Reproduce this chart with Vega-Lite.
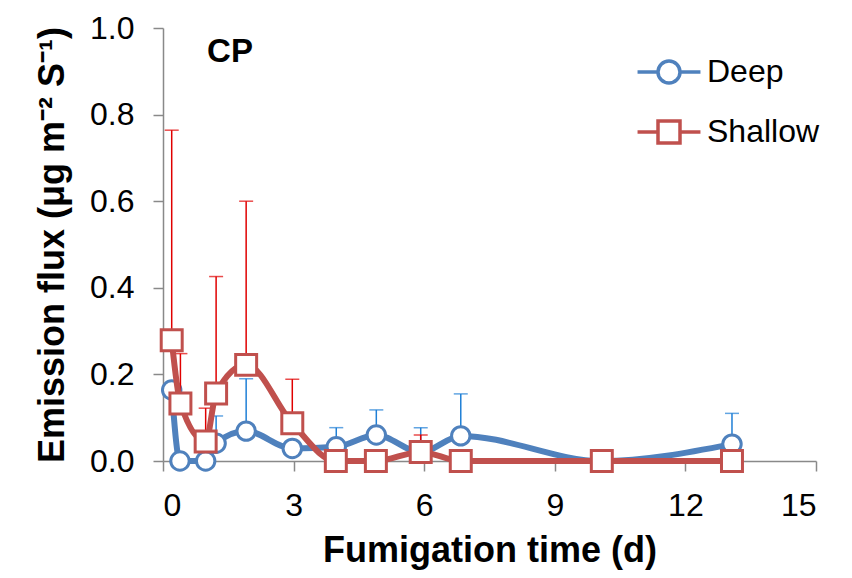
{
  "$schema": "https://vega.github.io/schema/vega-lite/v6.json",
  "autosize": "none",
  "width": 653,
  "height": 433,
  "padding": {"left": 163, "top": 28, "right": 36, "bottom": 117},
  "background": "white",
  "config": {
    "view": {"stroke": null},
    "font": "Liberation Sans",
    "axis": {
      "grid": false,
      "domainColor": "#898989",
      "domainWidth": 1.5,
      "tickColor": "#898989",
      "tickWidth": 1.5,
      "tickSize": 10,
      "labelFont": "Liberation Sans",
      "labelFontSize": 32,
      "labelColor": "#000000",
      "labelPadding": 19,
      "titleFont": "Liberation Sans",
      "titleFontSize": 36,
      "titleFontWeight": "bold",
      "titleColor": "#000000"
    }
  },
  "datasets": {
    "pts": [
      {"series": "Deep", "t": 0.2, "v": 0.164, "hi": null},
      {"series": "Deep", "t": 0.39, "v": 0.0, "hi": null},
      {"series": "Deep", "t": 0.98, "v": 0.0, "hi": null},
      {"series": "Deep", "t": 1.22, "v": 0.041, "hi": 0.104},
      {"series": "Deep", "t": 1.91, "v": 0.069, "hi": 0.19},
      {"series": "Deep", "t": 2.97, "v": 0.029, "hi": null},
      {"series": "Deep", "t": 3.98, "v": 0.033, "hi": 0.077},
      {"series": "Deep", "t": 4.9, "v": 0.06, "hi": 0.118},
      {"series": "Deep", "t": 5.92, "v": 0.02, "hi": 0.077},
      {"series": "Deep", "t": 6.84, "v": 0.058, "hi": 0.155},
      {"series": "Deep", "t": 10.08, "v": 0.0, "hi": null},
      {"series": "Deep", "t": 13.07, "v": 0.039, "hi": 0.11},
      {"series": "Shallow", "t": 0.2, "v": 0.279, "hi": 0.764},
      {"series": "Shallow", "t": 0.4, "v": 0.133, "hi": 0.248},
      {"series": "Shallow", "t": 0.98, "v": 0.045, "hi": 0.122},
      {"series": "Shallow", "t": 1.22, "v": 0.156, "hi": 0.426},
      {"series": "Shallow", "t": 1.91, "v": 0.222, "hi": 0.6},
      {"series": "Shallow", "t": 2.97, "v": 0.087, "hi": 0.189},
      {"series": "Shallow", "t": 3.97, "v": 0.0, "hi": null},
      {"series": "Shallow", "t": 4.89, "v": 0.0, "hi": null},
      {"series": "Shallow", "t": 5.92, "v": 0.021, "hi": 0.06},
      {"series": "Shallow", "t": 6.84, "v": 0.0, "hi": null},
      {"series": "Shallow", "t": 10.08, "v": 0.0, "hi": null},
      {"series": "Shallow", "t": 13.07, "v": 0.0, "hi": null}
    ]
  },
  "data": {"name": "pts"},
  "encoding": {
    "x": {
      "field": "t", "type": "quantitative",
      "scale": {"domain": [0, 15], "nice": false},
      "axis": {"values": [0, 3, 6, 9, 12, 15], "title": "Fumigation time (d)", "titlePadding": 12}
    },
    "y": {
      "field": "v", "type": "quantitative",
      "scale": {"domain": [0, 1], "nice": false},
      "axis": {"values": [0, 0.2, 0.4, 0.6, 0.8, 1.0], "format": ".1f", "title": "Emission flux (μg m⁻² S⁻¹)", "titlePadding": 18}
    }
  },
  "layer": [
    {
      "transform": [{"filter": "datum.series === 'Deep' && datum.hi != null"}],
      "mark": {"type": "rule", "color": "#1f7fd6", "strokeWidth": 1.5},
      "encoding": {"y2": {"field": "hi"}}
    },
    {
      "transform": [{"filter": "datum.series === 'Deep' && datum.hi != null"}],
      "mark": {"type": "tick", "orient": "horizontal", "color": "#1f7fd6", "size": 14, "thickness": 1.5},
      "encoding": {"y": {"field": "hi", "type": "quantitative"}}
    },
    {
      "transform": [{"filter": "datum.series === 'Deep'"}],
      "mark": {"type": "line", "color": "#4f81bd", "strokeWidth": 6, "interpolate": "monotone"},
      "encoding": {"order": {"field": "t"}}
    },
    {
      "transform": [{"filter": "datum.series === 'Deep'"}],
      "mark": {"type": "point", "shape": "circle", "size": 340, "filled": false, "fill": "white", "fillOpacity": 1, "stroke": "#4f81bd", "strokeWidth": 3, "opacity": 1}
    },
    {
      "transform": [{"filter": "datum.series === 'Shallow' && datum.hi != null"}],
      "mark": {"type": "rule", "color": "#e00000", "strokeWidth": 1.5},
      "encoding": {"y2": {"field": "hi"}}
    },
    {
      "transform": [{"filter": "datum.series === 'Shallow' && datum.hi != null"}],
      "mark": {"type": "tick", "orient": "horizontal", "color": "#e00000", "size": 14, "thickness": 1.5},
      "encoding": {"y": {"field": "hi", "type": "quantitative"}}
    },
    {
      "transform": [{"filter": "datum.series === 'Shallow'"}],
      "mark": {"type": "line", "color": "#c0504d", "strokeWidth": 6, "interpolate": "monotone"},
      "encoding": {"order": {"field": "t"}}
    },
    {
      "transform": [{"filter": "datum.series === 'Shallow'"}],
      "mark": {"type": "point", "shape": "square", "size": 440, "filled": false, "fill": "white", "fillOpacity": 1, "stroke": "#c0504d", "strokeWidth": 3, "opacity": 1}
    },
    {
      "transform": [{"filter": "false"}],
      "mark": {"type": "point", "filled": false, "strokeWidth": 3.5, "opacity": 1},
      "encoding": {
        "stroke": {
          "field": "series", "type": "nominal",
          "scale": {"domain": ["Deep", "Shallow"], "range": ["#4f81bd", "#c0504d"]},
          "legend": {
            "orient": "none", "legendX": 490, "legendY": 28, "title": null,
            "labelFont": "Liberation Sans", "labelFontSize": 32, "labelColor": "#000000",
            "symbolSize": 484, "symbolStrokeWidth": 3.5, "symbolFillColor": "white", "symbolOpacity": 1,
            "labelOffset": 22, "rowPadding": 24
          }
        },
        "shape": {
          "field": "series", "type": "nominal",
          "scale": {"domain": ["Deep", "Shallow"], "range": ["M-2.86,0L-1,0M1,0L2.86,0M1,0A1,1,0,1,1,-1,0A1,1,0,1,1,1,0Z", "M-2.86,0L-1,0M1,0L2.86,0M-1,-1L1,-1L1,1L-1,1Z"]}
        }
      }
    },
    {
      "data": {"values": [{"label": "CP", "t": 1.54, "v": 0.945}]},
      "mark": {"type": "text", "font": "Liberation Sans", "fontWeight": "bold", "fontSize": 33, "align": "center", "baseline": "middle", "color": "#000000"},
      "encoding": {"text": {"field": "label"}}
    }
  ]
}
